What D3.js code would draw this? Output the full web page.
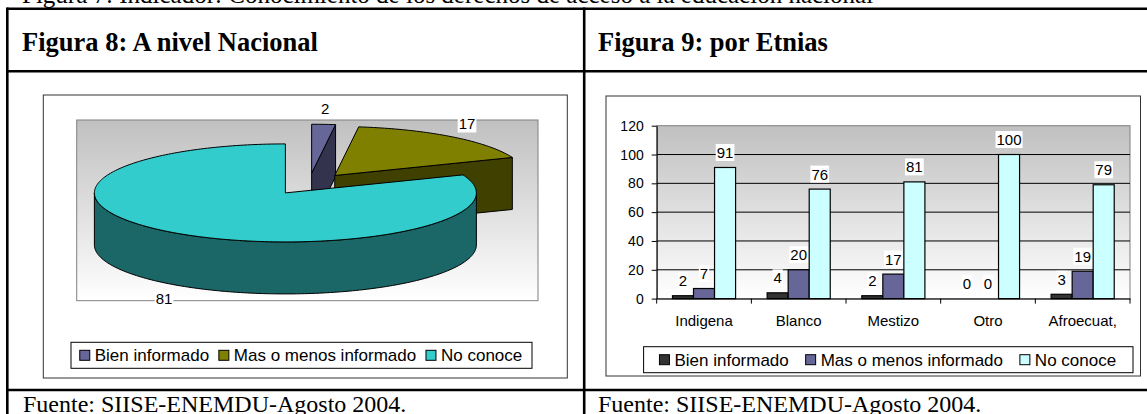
<!DOCTYPE html>
<html>
<head>
<meta charset="utf-8">
<script src="https://cdn.jsdelivr.net/npm/d3@7"></script>
<style>
  body { margin: 0; background: #fff; }
  svg { display: block; }
</style>
</head>
<body>
<script>
// ---- data ----
var seriesNames = ["Bien informado", "Mas o menos informado", "No conoce"]
var pieValues = [2, 17, 81]
var etnias = ["Indigena", "Blanco", "Mestizo", "Otro", "Afroecuat,"]
var bienInformado = [2, 4, 2, 0, 3]
var masOMenos = [7, 20, 17, 0, 19]
var noConoce = [91, 76, 81, 100, 79]
var yTicks = [0, 20, 40, 60, 80, 100, 120]

var pieColors = ["#666699", "#808000", "#33CCCC"],
    pieSides = ["#33334D", "#404000", "#1B6666"],
    barColors = ["#333333", "#666699", "#CCFFFF"],
    sans = "'Liberation Sans', Arial, sans-serif",
    serif = "'Liberation Serif', 'Times New Roman', serif"

var svg = d3.select("body").append("svg")
    .attr("width", 1147)
    .attr("height", 414)

var grad = svg.append("defs").append("linearGradient")
    .attr("id", "plotGrad")
    .attr("x1", 0).attr("y1", 0).attr("x2", 0).attr("y2", 1)
grad.append("stop").attr("offset", "0%").attr("stop-color", "#C0C0C0")
grad.append("stop").attr("offset", "100%").attr("stop-color", "#FFFFFF")

// ---- document table ----
// caption line above the table, only its lower edge is inside the picture
svg.append("text")
    .attr("x", 22).attr("y", 3)
    .style("font-family", serif).style("font-size", "25px")
    .text("Figura 7: Indicador: Conocimiento de los derechos de acceso a la educación nacional")

var table = svg.append("g").attr("stroke", "#000").attr("stroke-width", 2.6)
table.append("line").attr("x1", 7).attr("x2", 1147).attr("y1", 8.7).attr("y2", 8.7)
table.append("line").attr("x1", 7).attr("x2", 1147).attr("y1", 71.3).attr("y2", 71.3)
table.append("line").attr("x1", 7).attr("x2", 1147).attr("y1", 390).attr("y2", 390)
table.append("line").attr("x1", 7.3).attr("x2", 7.3).attr("y1", 7.4).attr("y2", 414)
table.append("line").attr("x1", 584.2).attr("x2", 584.2).attr("y1", 7.4).attr("y2", 414)

svg.selectAll(".figTitle")
    .data([["Figura 8: A nivel Nacional", 22], ["Figura 9: por Etnias", 598]])
    .enter().append("text")
    .attr("class", "figTitle")
    .attr("x", function(d) { return d[1] })
    .attr("y", 51)
    .style("font-family", serif).style("font-size", "26.5px").style("font-weight", "bold")
    .text(function(d) { return d[0] })

svg.selectAll(".fuente")
    .data([23, 598])
    .enter().append("text")
    .attr("class", "fuente")
    .attr("x", function(d) { return d })
    .attr("y", 411.7)
    .style("font-family", serif).style("font-size", "24px")
    .text("Fuente: SIISE-ENEMDU-Agosto 2004.")

// white box behind every text of a group
function addBg(g) {
  g.selectAll("text").each(function() {
    var b = this.getBBox()
    g.insert("rect", "text")
      .attr("x", b.x - 1).attr("y", b.y)
      .attr("width", b.width + 2).attr("height", b.height)
      .attr("fill", "#fff")
  })
}

function legend(g, box, colors) {
  g.append("rect")
    .attr("x", box.x).attr("y", box.y).attr("width", box.w).attr("height", box.h)
    .attr("fill", "#fff").attr("stroke", "#000").attr("stroke-width", 1)
  var items = g.selectAll(".leg").data(seriesNames).enter().append("g").attr("class", "leg")
  items.append("text")
    .attr("y", box.y + box.h / 2 + 6)
    .style("font-family", sans).style("font-size", "17px")
    .text(function(d) { return d })
  var widths = []
  items.select("text").each(function() { widths.push(this.getComputedTextLength() + 16) })
  var total = d3.sum(widths), gap = (box.w - total) / (widths.length + 1)
  var xpos = box.x + gap
  items.each(function(d, i) {
    var it = d3.select(this)
    it.append("rect")
      .attr("x", xpos).attr("y", box.y + box.h / 2 - 5)
      .attr("width", 10).attr("height", 10)
      .attr("fill", colors[i]).attr("stroke", "#000").attr("stroke-width", 1)
    it.select("text").attr("x", xpos + 15)
    xpos += widths[i] + gap
  })
}

// ---- Figura 8: 3D pie ----
var pieG = svg.append("g")
pieG.append("rect")
    .attr("x", 43.3).attr("y", 95).attr("width", 524).attr("height", 283)
    .attr("fill", "#fff").attr("stroke", "#333").attr("stroke-width", 1)
pieG.append("rect")
    .attr("x", 76.7).attr("y", 120).attr("width", 461.3).attr("height", 180.7)
    .attr("fill", "url(#plotGrad)").attr("stroke", "#808080").attr("stroke-width", 1)

var T = [309, 184], rx = 191, ry = 49, depth = 52, explode = 0.22
var arcs = d3.pie().sort(null).startAngle(0).endAngle(2 * Math.PI)(pieValues)

function pt(c, a, dz) { return [c[0] + rx * Math.sin(a), c[1] - ry * Math.cos(a) + dz] }
function arcPts(c, a0, a1, dz) {
  var n = Math.max(2, Math.ceil((a1 - a0) / 0.02)), pts = []
  for (var k = 0; k <= n; k++) pts.push(pt(c, a0 + (a1 - a0) * k / n, dz))
  return pts
}
var line = d3.line()

arcs.forEach(function(s, i) {
  var m = (s.startAngle + s.endAngle) / 2
  var c = [T[0] + explode * rx * Math.sin(m), T[1] - explode * ry * Math.cos(m)]
  var g = pieG.append("g").attr("stroke", "#000").attr("stroke-width", 1).attr("stroke-linejoin", "round")
  // radial cut faces that face the viewer
  ;[[s.endAngle, Math.sin(s.endAngle) > 1e-6], [s.startAngle, Math.sin(s.startAngle) < -1e-6]].forEach(function(e) {
    if (!e[1]) return
    var o = pt(c, e[0], 0)
    g.append("path")
      .attr("d", line([c, o, [o[0], o[1] + depth], [c[0], c[1] + depth]]) + "Z")
      .attr("fill", pieSides[i])
  })
  // front outer wall
  var v0 = Math.max(s.startAngle, Math.PI / 2), v1 = Math.min(s.endAngle, 3 * Math.PI / 2)
  if (v1 > v0) {
    var topP = arcPts(c, v0, v1, 0), botP = arcPts(c, v0, v1, depth).reverse()
    g.append("path").attr("d", line(topP.concat(botP)) + "Z").attr("fill", pieSides[i])
  }
  // top face
  g.append("path")
    .attr("d", line([c].concat(arcPts(c, s.startAngle, s.endAngle, 0))) + "Z")
    .attr("fill", pieColors[i])
})

var pieLab = pieG.append("g")
arcs.forEach(function(s) {
  var m = (s.startAngle + s.endAngle) / 2
  var lx = T[0] + 1.35 * rx * Math.sin(m),
      ly = T[1] - 1.55 * ry * Math.cos(m) + (Math.cos(m) < 0 ? depth : 0)
  pieLab.append("text")
    .attr("x", lx).attr("y", ly + 5.5)
    .attr("text-anchor", "middle")
    .style("font-family", sans).style("font-size", "15px")
    .text(s.data)
})
addBg(pieLab)

legend(pieG.append("g"), { x: 71, y: 342.3, w: 461, h: 26 }, pieColors)

// ---- Figura 9: grouped bars ----
var barG = svg.append("g")
barG.append("rect")
    .attr("x", 606).attr("y", 96).attr("width", 534.5).attr("height", 280)
    .attr("fill", "#fff").attr("stroke", "#333").attr("stroke-width", 1)

var x = d3.scaleBand().domain(etnias).range([656.7, 1130]).padding(0)
var xs = d3.scaleBand().domain(seriesNames).range([0, x.bandwidth()]).paddingInner(0).paddingOuter(0.75)
var y = d3.scaleLinear().domain([0, 120]).range([298.6, 125.7])

barG.append("rect")
    .attr("x", x.range()[0]).attr("y", y(120))
    .attr("width", x.range()[1] - x.range()[0]).attr("height", y(0) - y(120))
    .attr("fill", "url(#plotGrad)").attr("stroke", "#808080").attr("stroke-width", 1)

barG.selectAll(".grid")
    .data(yTicks.filter(function(d) { return d > 0 && d < 120 }))
    .enter().append("line")
    .attr("class", "grid")
    .attr("x1", x.range()[0]).attr("x2", x.range()[1])
    .attr("y1", function(d) { return y(d) }).attr("y2", function(d) { return y(d) })
    .attr("stroke", "#000").attr("stroke-width", 1)

var rows = etnias.map(function(e, i) {
  return { cat: e, vals: [bienInformado[i], masOMenos[i], noConoce[i]] }
})

var groups = barG.selectAll(".grp").data(rows).enter().append("g")
    .attr("class", "grp")
    .attr("transform", function(d) { return "translate(" + x(d.cat) + ",0)" })

groups.selectAll("rect")
    .data(function(d) { return d.vals.map(function(v, k) { return { s: seriesNames[k], v: v, k: k } }) })
    .enter().append("rect")
    .attr("x", function(d) { return xs(d.s) })
    .attr("y", function(d) { return y(d.v) })
    .attr("width", xs.bandwidth())
    .attr("height", function(d) { return y(0) - y(d.v) })
    .attr("fill", function(d) { return barColors[d.k] })
    .attr("stroke", "#000").attr("stroke-width", 1.2)

var yAxis = barG.append("g")
    .attr("transform", "translate(" + x.range()[0] + ",0)")
    .call(d3.axisLeft(y).tickValues(yTicks).tickSize(5).tickSizeOuter(0).tickPadding(8))
yAxis.selectAll("text").style("font-family", sans).style("font-size", "14px").attr("fill", "#000")
yAxis.selectAll("line,path").attr("stroke", "#000")

var xAxis = barG.append("g")
    .attr("transform", "translate(0," + y(0) + ")")
    .call(d3.axisBottom(x).tickSize(0).tickSizeOuter(0).tickPadding(17))
xAxis.selectAll("text").style("font-family", sans).style("font-size", "15px").attr("fill", "#000")
xAxis.select(".domain").attr("stroke", "#000")

barG.selectAll(".xtick")
    .data(etnias.map(function(e) { return x(e) }).concat([x.range()[1]]))
    .enter().append("line")
    .attr("class", "xtick")
    .attr("x1", function(d) { return d }).attr("x2", function(d) { return d })
    .attr("y1", y(0)).attr("y2", y(0) + 5)
    .attr("stroke", "#000")

var barLab = barG.append("g")
rows.forEach(function(r) {
  r.vals.forEach(function(v, k) {
    barLab.append("text")
      .attr("x", x(r.cat) + xs(seriesNames[k]) + xs.bandwidth() / 2)
      .attr("y", y(v) - 9.5)
      .attr("text-anchor", "middle")
      .style("font-family", sans).style("font-size", "15px")
      .text(v)
  })
})
addBg(barLab)

legend(barG.append("g"), { x: 643.6, y: 346.7, w: 489.4, h: 26 }, barColors)
</script>
</body>
</html>
